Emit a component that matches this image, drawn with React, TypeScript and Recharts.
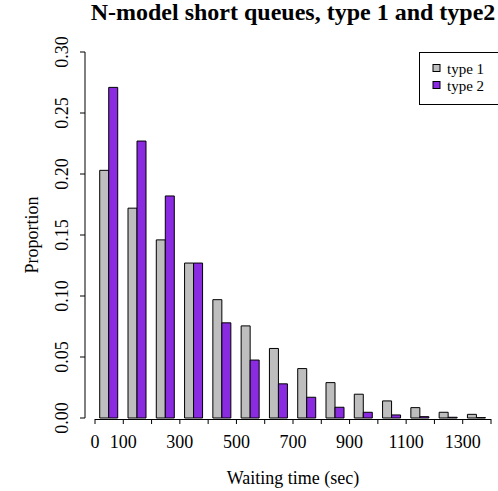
import React from 'react'
import { BarChart, Bar, XAxis, YAxis, ReferenceLine } from 'recharts'

const bins = [
  '0-100', '100-200', '200-300', '300-400', '400-500', '500-600', '600-700',
  '700-800', '800-900', '900-1000', '1000-1100', '1100-1200', '1200-1300', '1300-1400',
]
const binStart = [0, 100, 200, 300, 400, 500, 600, 700, 800, 900, 1000, 1100, 1200, 1300]
const type1 = [0.203, 0.172, 0.146, 0.127, 0.097, 0.0755, 0.057, 0.0405, 0.029, 0.0195, 0.014, 0.0085, 0.0047, 0.003]
const type2 = [0.271, 0.227, 0.182, 0.127, 0.078, 0.0475, 0.028, 0.017, 0.0088, 0.0047, 0.0025, 0.0011, 0.0006, 0.0003]

const xTicks = [0, 100, 200, 300, 400, 500, 600, 700, 800, 900, 1000, 1100, 1200, 1300, 1400]
const xLabels = [0, 100, 300, 500, 700, 900, 1100, 1300]
const yTicks = [0, 0.05, 0.1, 0.15, 0.2, 0.25, 0.3]

const series = [
  { key: 'type1', name: 'type 1', color: '#BEBEBE' },
  { key: 'type2', name: 'type 2', color: '#8A2BE2' },
]

const data = bins.map((bin, i) => ({ bin, start: binStart[i], type1: type1[i], type2: type2[i] }))

const serif = '"Liberation Serif", "DejaVu Serif", serif'
const W = 498
const H = 491
const PAD = 10
const FS = 18
const LEG_STEP = 17

function XTick(props: any) {
  const { x, y, payload } = props
  const show = xLabels.includes(payload.value)
  return (
    <g>
      <line x1={x} x2={x} y1={y + 1} y2={y + 6} stroke="#000" />
      {show && (
        <text x={x} y={y + 30} textAnchor="middle" fontSize={FS} fontFamily={serif} fill="#000">
          {payload.value}
        </text>
      )}
    </g>
  )
}

function YTick(props: any) {
  const { x, y, payload } = props
  const bx = x - 17
  return (
    <g>
      <line x1={x - 5} x2={x} y1={y} y2={y} stroke="#000" />
      <text
        x={bx}
        y={y}
        transform={`rotate(-90 ${bx} ${y})`}
        textAnchor="middle"
        fontSize={FS}
        fontFamily={serif}
        fill="#000"
      >
        {payload.value.toFixed(2)}
      </text>
    </g>
  )
}

function YLabel(props: any) {
  const { viewBox } = props
  const x = viewBox.x + 38
  const y = viewBox.y + viewBox.height / 2
  return (
    <text x={x} y={y} transform={`rotate(-90 ${x} ${y})`} textAnchor="middle" fontSize={FS} fontFamily={serif} fill="#000">
      Proportion
    </text>
  )
}

function XLabel(props: any) {
  const { viewBox } = props
  const x = viewBox.x + PAD + (viewBox.width - PAD) / 2
  return (
    <text x={x} y={viewBox.y + 66} textAnchor="middle" fontSize={FS} fontFamily={serif} fill="#000">
      Waiting time (sec)
    </text>
  )
}

export default function App() {
  return (
    <div style={{ position: 'absolute', left: 0, top: 0, width: W, height: H, overflow: 'hidden', background: '#fff' }}>
      <BarChart
        width={W}
        height={H}
        data={data}
        margin={{ top: 52, right: 7, bottom: 0, left: 0 }}
        barCategoryGap="16.67%"
        barGap={0}
      >
        <XAxis xAxisId="cat" dataKey="bin" hide height={0} padding={{ left: PAD, right: 0 }} />
        <XAxis
          xAxisId="num"
          dataKey="start"
          type="number"
          domain={[0, 1400]}
          ticks={xTicks}
          interval={0}
          allowDataOverflow
          padding={{ left: PAD, right: 0 }}
          height={73}
          axisLine={false}
          tickLine={false}
          tickSize={0}
          tickMargin={0}
          tick={<XTick />}
          label={<XLabel />}
        />
        <YAxis
          domain={[0, 0.3]}
          ticks={yTicks}
          interval={0}
          width={85}
          axisLine={{ stroke: '#000' }}
          tickLine={false}
          tickSize={0}
          tickMargin={0}
          tick={<YTick />}
          label={<YLabel />}
        />
        <ReferenceLine
          xAxisId="num"
          segment={[{ x: 0, y: 0 }, { x: 1400, y: 0 }]}
          stroke="#000"
          transform="translate(0 1.5)"
        />
        {series.map((s) => (
          <Bar
            key={s.key}
            xAxisId="cat"
            dataKey={s.key}
            name={s.name}
            fill={s.color}
            stroke="#000"
            strokeWidth={1}
            isAnimationActive={false}
          />
        ))}
      </BarChart>
      <svg width={W} height={H} style={{ position: 'absolute', left: 0, top: 0, pointerEvents: 'none' }}>
        <text x={293} y={20} textAnchor="middle" fontSize={24} fontWeight="bold" fontFamily={serif} fill="#000">
          N-model short queues, type 1 and type2
        </text>
        <rect x={419.5} y={52.5} width={100} height={52} fill="#fff" stroke="#000" />
        {series.map((s, i) => (
          <g key={s.key}>
            <rect x={433} y={64.5 + i * LEG_STEP} width={7} height={7} fill={s.color} stroke="#000" />
            <text x={447} y={73.5 + i * LEG_STEP} fontSize={15} fontFamily={serif} fill="#000">
              {s.name}
            </text>
          </g>
        ))}
      </svg>
    </div>
  )
}
